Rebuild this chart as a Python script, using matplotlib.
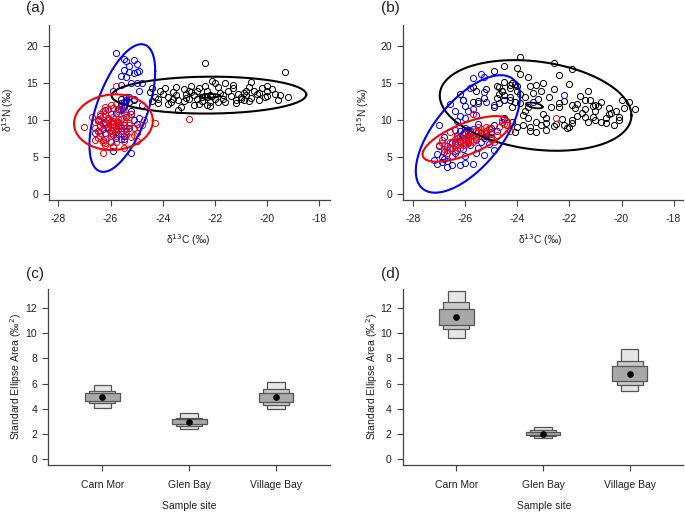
import numpy as np
import matplotlib.pyplot as plt

plt.rcParams['font.family'] = ['Liberation Sans', 'DejaVu Sans']
plt.rcParams['axes.unicode_minus'] = False

# ---------------- panel (a) points ----------------
a_black_x = [-25.4, -25.3, -25.1, -25.6,
             -24.5, -24.4, -24.3, -24.2, -24.1, -24.0, -24.2, -24.4,
             -23.9, -23.8, -23.7, -23.6, -23.6, -23.5, -23.8, -23.5,
             -23.4, -23.3, -23.2, -23.1, -23.0, -23.2, -23.0, -23.4, -23.1,
             -22.9, -22.8, -22.7, -22.6, -22.6, -22.8, -22.9, -22.5, -22.7, -22.5,
             -22.4, -22.4, -22.3, -22.2, -22.1, -22.3, -22.2, -22.1, -22.0, -22.4, -22.0, -22.2, -22.3,
             -21.9, -21.8, -21.7, -21.6, -21.6, -21.9, -21.5, -21.7,
             -21.4, -21.3, -21.2, -21.1, -21.0, -21.3, -21.0, -21.2,
             -20.9, -20.9, -20.8, -20.7, -20.6, -20.6, -20.5, -20.7, -20.8,
             -20.4, -20.3, -20.2, -20.1, -20.0, -20.0, -20.0, -20.3,
             -19.8, -19.6, -19.5, -19.3, -19.2, -19.7]
a_black_y = [13.1, 12.4, 12.8, 12.9,
             13.8, 14.4, 13.2, 12.9, 14.0, 13.5, 12.3, 12.6,
             14.3, 13.1, 12.4, 13.8, 12.9, 14.5, 12.2, 13.4,
             11.4, 11.8, 12.6, 13.6, 14.0, 14.2, 12.9, 12.7, 13.0,
             14.6, 13.4, 12.9, 14.3, 12.2, 12.1, 13.8, 13.1, 14.0, 12.6,
             17.8, 13.3, 13.2, 13.4, 13.3, 12.1, 12.4, 15.3, 15.0, 14.6, 12.9, 11.9, 14.0,
             14.5, 13.7, 12.9, 15.0, 12.4, 12.5, 14.0, 13.4,
             13.3, 14.8, 12.3, 13.6, 12.9, 14.3, 13.2, 12.7,
             13.7, 12.8, 13.4, 14.5, 15.2, 13.0, 14.0, 12.6, 13.9,
             13.5, 12.8, 14.4, 13.1, 14.6, 14.0, 13.3, 13.7,
             14.2, 12.8, 13.4, 16.5, 13.2, 13.6]

a_blue_x = [-25.8, -25.5, -25.4, -25.1, -25.0, -24.9, -25.0, -25.3, -25.4, -25.2,
            -25.0, -24.8, -25.5, -25.6, -25.3, -25.1, -24.8, -25.6, -25.9, -25.3,
            -25.5, -25.6, -25.7, -25.5, -25.4, -25.6, -25.8, -25.2, -25.9, -25.4,
            -25.2, -25.6, -25.1, -24.9, -26.0, -26.2, -26.4, -26.1, -25.9, -25.7,
            -25.5, -25.3, -26.6, -26.5, -26.3, -26.0, -25.8, -25.6, -25.4, -26.2,
            -26.4, -26.1, -25.9, -25.7, -25.5, -26.3, -26.0, -25.8, -25.6, -26.5,
            -25.2, -25.9, -26.0, -26.3, -25.5, -25.0, -25.1, -24.9, -26.2, -25.7]
a_blue_y = [19.1, 18.3, 18.0, 18.1, 17.6, 16.6, 16.5, 16.5, 15.9, 15.0,
            15.0, 15.1, 16.8, 16.0, 17.3, 16.4, 12.1, 14.8, 13.9, 13.2,
            12.5, 12.0, 11.5, 11.8, 12.8, 12.3, 11.0, 11.2, 11.6, 10.4,
            10.9, 10.2, 12.9, 14.0, 10.9, 11.4, 10.6, 10.0, 9.5, 9.8,
            9.4, 9.0, 8.3, 8.5, 8.8, 8.7, 8.4, 8.9, 8.6, 8.2,
            9.2, 9.1, 8.0, 8.1, 7.8, 9.6, 9.9, 7.6, 7.4, 10.0,
            5.6, 5.8, 7.0, 7.3, 7.5, 9.5, 10.0, 10.3, 9.8, 9.2]

a_red_x = [-27.0, -24.3, -23.0, -26.3, -25.9, -25.8, -25.0, -26.7, -26.6, -26.5,
           -26.4, -26.3, -26.2, -26.1, -26.0, -25.9, -25.8, -25.7, -25.6, -25.5,
           -25.4, -25.3, -26.6, -26.5, -26.4, -26.3, -26.2, -26.1, -26.0, -25.9,
           -25.8, -25.7, -25.6, -25.5, -25.4, -26.5, -26.4, -26.2, -26.0, -25.8,
           -25.6, -25.4, -25.2, -25.0, -24.8, -24.7, -26.1, -25.9, -25.7, -26.3,
           -26.0, -25.8, -25.5, -25.3, -25.1, -26.2, -25.9, -26.4, -26.1, -25.6,
           -25.2, -24.9, -26.6, -26.2, -25.8, -25.5, -26.0, -25.7, -26.3, -25.9,
           -25.4, -25.1, -26.5, -26.2, -25.6, -25.3]
a_red_y = [9.1, 9.6, 10.2, 5.6, 6.5, 14.6, 7.2, 10.5, 9.8, 10.2,
           10.9, 11.3, 11.8, 11.5, 12.0, 11.6, 12.2, 11.2, 11.8, 11.0,
           10.7, 10.4, 9.0, 8.6, 8.3, 9.5, 9.3, 8.8, 9.7, 9.9,
           9.4, 9.6, 9.2, 9.8, 9.0, 7.6, 7.9, 7.4, 7.8, 8.1,
           8.5, 8.0, 7.7, 8.3, 9.4, 10.0, 10.0, 10.4, 10.1, 10.6,
           8.6, 8.8, 7.2, 9.6, 8.9, 6.9, 6.4, 9.2, 10.3, 11.4,
           10.8, 9.1, 7.3, 6.6, 7.0, 6.2, 8.2, 8.7, 7.1, 9.0,
           8.4, 8.0, 9.9, 10.8, 10.2, 9.3]

# ---------------- panel (b) points ----------------
b_black_x = [-23.9, -22.6, -21.9, -24.5, -24.0, -24.9, -23.6, -22.4, -23.9, -24.3,
             -24.5, -24.7, -25.2, -25.7, -25.6, -26.2, -25.3, -25.7, -25.5, -26.1,
             -23.5, -23.3, -23.0, -23.1, -22.0, -21.3, -21.4, -21.9, -21.8, -21.4,
             -21.0, -21.0, -20.5, -20.5, -20.6, -21.4, -21.0, -21.7, -21.9, -22.0,
             -22.1, -22.2, -22.4, -22.4, -22.7, -23.0, -22.9, -22.9, -23.1, -23.3,
             -23.5, -23.5, -23.3, -23.6, -23.8, -24.0, -24.1, -23.8, -24.2, -24.3,
             -24.3, -24.5, -24.7, -24.5, -24.8, -24.7, -24.9, -24.5, -24.4, -24.2,
             -23.7, -23.6, -23.9, -24.1, -20.2, -20.1, -20.1, -20.0, -19.7, -19.9,
             -19.5, -20.3, -20.6, -21.1, -22.9, -22.6, -22.5, -21.9, -21.7, -21.2,
             -25.0, -25.4, -24.9, -25.2, -24.6, -24.3, -24.6, -24.8, -24.1, -23.9,
             -22.8, -22.2, -21.6, -21.5, -21.1, -20.8, -20.4, -20.8, -22.3, -23.2,
             -23.4, -24.0, -22.6, -21.3, -20.9, -24.2, -24.0, -23.7]
b_black_y = [18.5, 17.8, 17.0, 17.4, 17.1, 16.6, 15.8, 16.1, 16.2, 14.8,
             15.2, 14.5, 14.2, 14.5, 13.9, 13.6, 13.0, 12.5, 12.6, 12.7,
             14.6, 14.8, 15.0, 14.0, 14.9, 13.9, 12.7, 12.0, 11.6, 11.5,
             12.0, 11.2, 11.6, 10.9, 10.3, 10.5, 10.0, 10.6, 9.6, 9.1,
             8.9, 9.3, 11.8, 12.3, 11.8, 10.9, 10.3, 9.6, 9.4, 9.8,
             9.1, 8.6, 8.4, 10.3, 9.4, 9.1, 8.4, 10.7, 11.8, 12.7,
             13.2, 13.4, 13.6, 12.7, 13.0, 12.3, 11.8, 10.3, 9.4, 9.8,
             11.2, 11.8, 12.3, 12.5, 11.2, 10.5, 10.0, 12.7, 12.5, 11.7,
             11.5, 9.4, 9.6, 11.9, 8.7, 9.2, 9.5, 10.0, 12.2, 12.7,
             8.4, 8.2, 9.4, 7.8, 14.0, 14.3, 13.9, 14.7, 14.9, 13.5,
             13.1, 12.6, 13.3, 11.0, 10.4, 12.4, 11.0, 9.8, 10.2, 12.9,
             13.7, 13.9, 14.2, 9.7, 11.9, 15.1, 14.6, 13.1]

b_blue_x = [-25.4, -25.3, -25.7, -25.8, -25.3, -25.5, -26.1, -26.4, -26.6, -25.9,
            -25.2, -24.9, -24.5, -22.2, -23.4, -26.0, -25.6, -26.3, -26.0, -25.7,
            -27.0, -26.7, -27.1, -27.1, -26.9, -26.7, -26.5, -26.2, -26.0, -25.7,
            -26.0, -25.3, -24.9, -25.5, -26.5, -26.8, -27.0, -26.4, -25.1, -26.2,
            -26.1, -25.9, -25.8, -25.6, -25.4, -26.3, -26.2, -26.0, -25.9, -26.4,
            -26.6, -26.8, -25.2, -25.0, -24.8, -25.5, -26.1, -25.8, -26.9, -27.2,
            -26.7, -26.3, -25.6, -25.9, -26.5, -25.3, -24.6, -25.7, -26.0, -26.2,
            -24.5, -25.0, -26.4, -26.8]
b_blue_y = [16.2, 15.9, 15.7, 14.3, 13.8, 12.3, 12.8, 11.3, 12.2, 11.3,
            12.5, 12.0, 12.7, 13.4, 12.5, 10.3, 10.7, 9.9, 9.0, 8.8,
            9.3, 6.5, 5.4, 4.0, 5.0, 3.6, 3.9, 3.9, 4.2, 4.0,
            5.1, 5.3, 6.0, 6.3, 5.2, 4.8, 6.5, 5.6, 6.8, 7.2,
            7.6, 7.9, 8.3, 7.4, 7.0, 7.8, 8.5, 8.1, 7.3, 6.9,
            6.2, 5.7, 8.2, 9.0, 8.6, 9.5, 6.1, 6.6, 4.3, 4.6,
            4.5, 5.9, 5.6, 6.9, 7.1, 7.6, 9.8, 11.5, 11.9, 10.6,
            10.1, 7.7, 8.7, 7.7]

b_red_x = [-27.0, -26.8, -26.7, -26.5, -26.4, -26.3, -26.2, -26.1, -26.0, -25.9,
           -25.8, -25.6, -25.4, -25.2, -25.0, -24.9, -24.5, -24.6, -24.3, -22.5,
           -25.7, -26.6, -26.3, -26.9, -25.5, -26.0, -26.2, -25.8, -25.6, -25.3,
           -25.1, -26.4, -26.1, -25.9, -25.7, -26.7, -26.5, -26.0, -25.5, -25.2,
           -24.8, -26.8, -26.3, -25.9, -25.4, -26.6, -26.1, -25.8, -25.0, -24.7,
           -26.4, -26.2, -25.6, -25.3, -26.9, -26.0, -25.7, -25.5, -24.4, -25.1]
b_red_y = [6.7, 6.1, 5.6, 6.9, 7.4, 6.8, 7.9, 8.1, 7.5, 8.4,
           8.7, 8.5, 8.8, 8.6, 7.4, 7.1, 9.5, 10.0, 8.6, 10.3,
           10.8, 8.4, 8.0, 7.3, 7.8, 6.6, 6.9, 7.2, 7.7, 8.3,
           8.9, 6.4, 7.0, 7.6, 8.0, 5.9, 6.3, 8.2, 8.6, 9.1,
           8.0, 6.6, 7.6, 7.1, 8.4, 7.1, 6.7, 8.6, 8.1, 9.1,
           5.8, 6.2, 7.3, 7.9, 6.9, 7.3, 7.0, 9.1, 9.4, 8.8]

# standard ellipses: centre x, centre y, half width (x), half height (y), correlation
a_ell_black = [-22.23, 13.4, 3.73, 2.5, 0.03]
a_ell_blue = [-25.55, 11.65, 1.26, 8.65, 0.58]
a_ell_red = [-25.89, 9.73, 1.51, 3.77, 0.05]
a_mean_black = [-22.2, 13.3, 0.4, 0.25, 0.1]
a_mean_blue = [-25.45, 12.0, 0.15, 1.0, 0.75]
a_mean_red = [-25.9, 9.4, 0.2, 0.45, 0.2]

b_ell_black = [-23.3, 12.0, 3.68, 6.14, -0.22]
b_ell_blue = [-25.9, 8.14, 2.0, 7.96, 0.63]
b_ell_red = [-25.96, 7.47, 1.68, 3.09, 0.68]
b_mean_black = [-23.35, 12.0, 0.32, 0.4, -0.5]
b_mean_blue = [-26.0, 8.3, 0.2, 0.7, 0.7]
b_mean_red = [-25.9, 7.8, 0.2, 0.35, 0.6]

# ---------------- panels (c) and (d): SEA_B credible intervals ----------------
sites = ["Carn Mor", "Glen Bay", "Village Bay"]
c_mode = [4.97, 2.93, 4.92]
c_lo99 = [4.08, 2.42, 3.95]
c_hi99 = [5.85, 3.67, 6.15]
c_lo95 = [4.43, 2.63, 4.28]
c_hi95 = [5.42, 3.22, 5.55]
c_lo50 = [4.63, 2.75, 4.52]
c_hi50 = [5.22, 3.15, 5.28]

d_mode = [11.28, 2.0, 6.74]
d_lo99 = [9.6, 1.67, 5.42]
d_hi99 = [13.4, 2.55, 8.72]
d_lo95 = [10.33, 1.8, 5.92]
d_hi95 = [12.48, 2.32, 7.82]
d_lo50 = [10.67, 1.88, 6.24]
d_hi50 = [11.92, 2.15, 7.36]

W, H = 685, 512
fig = plt.figure(figsize=(6.85, 5.12), dpi=100)


def axes_px(x0, x1, y0, y1):
    return fig.add_axes([x0 / W, 1 - y1 / H, (x1 - x0) / W, (y1 - y0) / H])


def style(ax):
    for s in ["top", "right"]:
        ax.spines[s].set_visible(False)
    for s in ["left", "bottom"]:
        ax.spines[s].set_color("#444444")
        ax.spines[s].set_linewidth(0.9)
    ax.tick_params(length=4, width=0.8, color="#444444", labelsize=7.5,
                   labelcolor="#222222")
    ax.tick_params(axis="x", pad=6)
    ax.tick_params(axis="y", pad=4)


def ellipse(ax, p, color, lw):
    cx, cy, rx, ry, rho = p
    t = np.linspace(0, 2 * np.pi, 200)
    ex = cx + rx * np.cos(t)
    ey = cy + ry * (rho * np.cos(t) + np.sqrt(1 - rho ** 2) * np.sin(t))
    ax.plot(ex, ey, color=color, lw=lw)


def scatter_panel(ax, groups, ells, means, xlim):
    for x, y, c in groups:
        ax.plot(x, y, "o", mfc="none", mec=c, ms=4.4, mew=0.7)
    for p, c in zip(ells, ["black", "blue", "red"]):
        ellipse(ax, p, c, 1.5)
    for p, c in zip(means, ["black", "blue", "red"]):
        ellipse(ax, p, c, 1.3)
    ax.set_xlim(*xlim)
    ax.set_ylim(-0.81, 22.9)
    ax.set_xticks([-28, -26, -24, -22, -20, -18])
    ax.set_yticks([0, 5, 10, 15, 20])
    style(ax)


def box_panel(ax, mode, lo99, hi99, lo95, hi95, lo50, hi50):
    pos = np.arange(1, len(sites) + 1)
    ax.bar(pos, np.subtract(hi99, lo99), bottom=lo99, width=0.2,
           color="#e6e6e6", edgecolor="#555555", lw=0.9)
    ax.bar(pos, np.subtract(hi95, lo95), bottom=lo95, width=0.3,
           color="#c9c9c9", edgecolor="#555555", lw=0.9)
    ax.bar(pos, np.subtract(hi50, lo50), bottom=lo50, width=0.4,
           color="#a8a8a8", edgecolor="#555555", lw=0.9)
    ax.plot(pos, mode, "o", color="black", ms=3.8)
    ax.set_xlim(0.38, 3.62)
    ax.set_ylim(-0.48, 13.5)
    ax.set_xticks(pos)
    ax.set_xticklabels(sites)
    ax.set_yticks([0, 2, 4, 6, 8, 10, 12])
    style(ax)
    ax.tick_params(axis="x", pad=7)


ax_a = axes_px(49, 330, 25, 200)
scatter_panel(ax_a,
              [(a_black_x, a_black_y, "black"), (a_blue_x, a_blue_y, "blue"),
               (a_red_x, a_red_y, "red")],
              [a_ell_black, a_ell_blue, a_ell_red],
              [a_mean_black, a_mean_blue, a_mean_red],
              (-28.36, -17.59))

ax_b = axes_px(403.3, 683, 25, 200)
scatter_panel(ax_b,
              [(b_black_x, b_black_y, "black"), (b_blue_x, b_blue_y, "blue"),
               (b_red_x, b_red_y, "red")],
              [b_ell_black, b_ell_blue, b_ell_red],
              [b_mean_black, b_mean_blue, b_mean_red],
              (-28.38, -17.64))

ax_c = axes_px(48.3, 330, 289.3, 465)
box_panel(ax_c, c_mode, c_lo99, c_hi99, c_lo95, c_hi95, c_lo50, c_hi50)

ax_d = axes_px(402.7, 683.3, 289.3, 465)
box_panel(ax_d, d_mode, d_lo99, d_hi99, d_lo95, d_hi95, d_lo50, d_hi50)


def ftext(x, y, s, **kw):
    fig.text(x / W, 1 - y / H, s, ha="center", va="center", color="#222222", **kw)


for lab, (x, y) in zip(["(a)", "(b)", "(c)", "(d)"],
                       [(35, 8), (390, 8), (35, 274), (390, 274)]):
    ftext(x, y, lab, fontsize=11)

ftext(188, 240, "δ$^{13}$C (‰)", fontsize=7.5)
ftext(540, 240, "δ$^{13}$C (‰)", fontsize=7.5)
ftext(8, 110, "δ$^{15}$N (‰)", fontsize=7.5, rotation=90)
ftext(363, 110, "δ$^{15}$N (‰)", fontsize=7.5, rotation=90)
ftext(189, 506, "Sample site", fontsize=7.5)
ftext(544, 506, "Sample site", fontsize=7.5)
ftext(16, 377, "Standard Ellipse Area (‰$^{2}$)", fontsize=7.5, rotation=90)
ftext(372, 377, "Standard Ellipse Area (‰$^{2}$)", fontsize=7.5, rotation=90)

fig.savefig("out.png", dpi=100)
